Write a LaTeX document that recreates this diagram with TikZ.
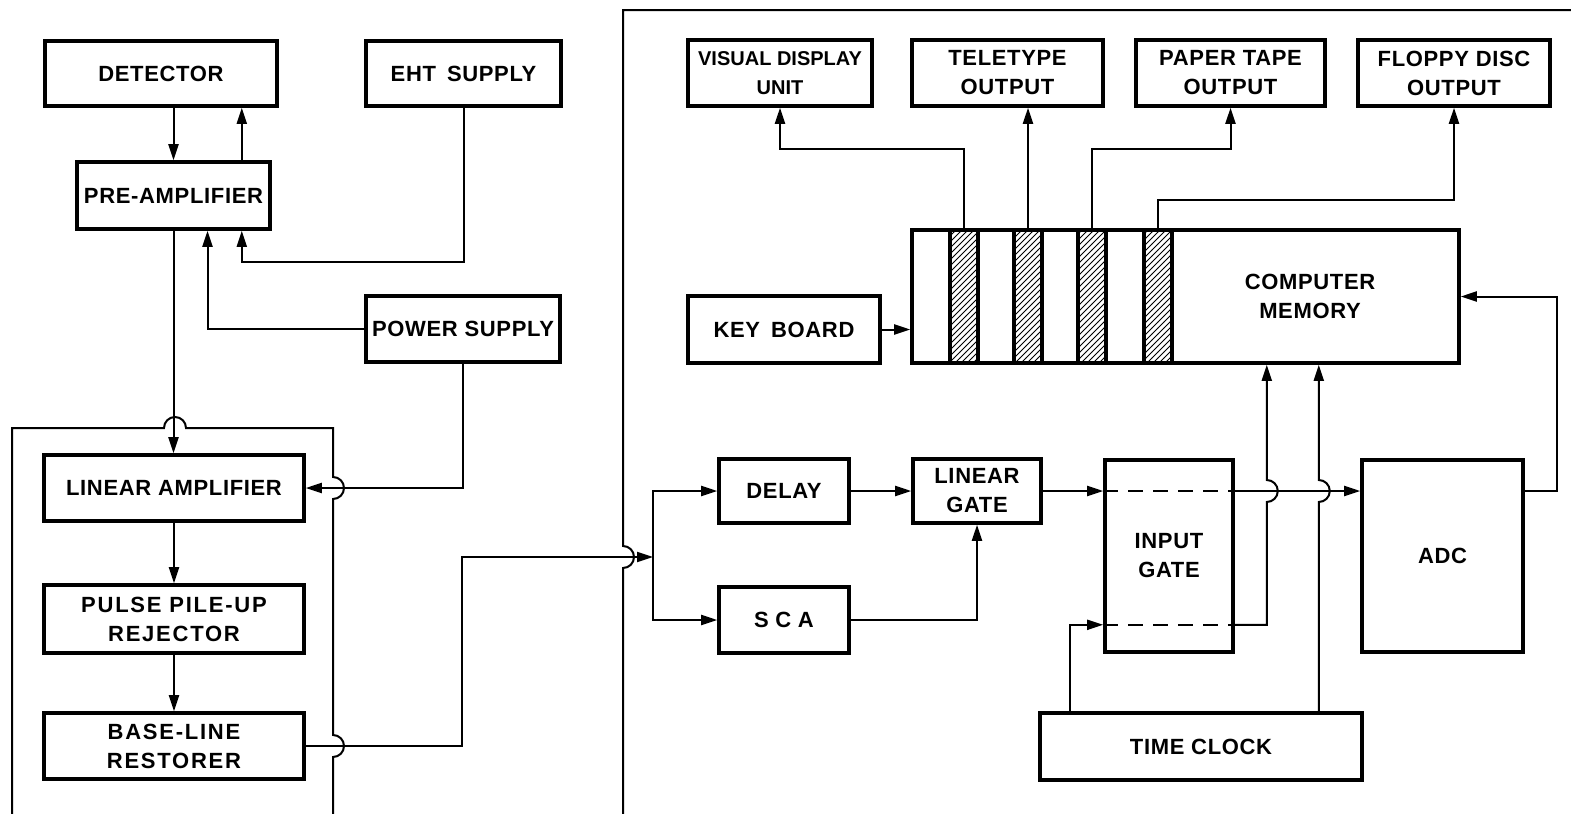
\documentclass[tikz,border=0pt]{standalone}
\usepackage{fontspec}
\setmainfont{Liberation Sans}[LetterSpace=3]
\usepackage{tikz}
\usetikzlibrary{arrows.meta,calc,patterns}
\newcommand{\boxfont}{\fontsize{11}{14.5}\selectfont\bfseries}

\begin{document}
\begin{tikzpicture}[x=0.5pt,y=-0.5pt,
    blk/.style={draw,line width=1.8pt,inner sep=0pt,align=center,
                font=\boxfont},
    strip/.style={draw,line width=1.8pt,pattern=north east lines,
                  minimum width=14pt,minimum height=66.5pt},
    conn/.style={line width=1pt},
    arr/.style={conn,-{Triangle[length=8pt,width=5pt]}},
    gated/.style={line width=1pt,dash pattern=on 7.5pt off 5pt},
    frame/.style={line width=1pt}
  ]
  \def\jr{5.5pt}
  \fill[white] (0,0) rectangle (1571,814);
  \useasboundingbox (0,0) rectangle (1571,814);
  %% Detector side
  \node[blk,minimum width=116pt,minimum height=32.5pt] (det) at (161,73.5) {DETECTOR};
  \node[blk,minimum width=97.5pt,minimum height=32.5pt] (eht) at (463.5,73.5) {EHT\enspace SUPPLY};
  \node[blk,minimum width=96.5pt,minimum height=33.5pt] (pre) at (173.5,195.5) {PRE-AMPLIFIER};
  \node[blk,minimum width=97pt,minimum height=33pt] (pwr) at (463,329) {POWER SUPPLY};
  %% Shaping chain (left frame)
  \node[blk,minimum width=130pt,minimum height=33pt] (lin) at (174,488) {LINEAR AMPLIFIER};
  \node[blk,minimum width=130pt,minimum height=34pt,
        font=\boxfont\addfontfeature{LetterSpace=8}] (pur) at (174,619) {PULSE PILE-UP\\REJECTOR};
  \node[blk,minimum width=130pt,minimum height=33pt,
        font=\boxfont\addfontfeature{LetterSpace=8}] (blr) at (174,746) {BASE-LINE\\RESTORER};
  %% Outputs
  \node[blk,minimum width=92pt,minimum height=33pt,
        font=\fontsize{10}{14.5}\selectfont\bfseries\addfontfeature{LetterSpace=0}] (vdu) at (780,73) {VISUAL DISPLAY\\UNIT};
  \node[blk,minimum width=95.5pt,minimum height=33pt] (tty) at (1007.5,73) {TELETYPE\\OUTPUT};
  \node[blk,minimum width=94.5pt,minimum height=33pt] (ppt) at (1230.5,73) {PAPER TAPE\\OUTPUT};
  \node[blk,minimum width=96pt,minimum height=33pt] (fdo) at (1454,73) {FLOPPY DISC\\OUTPUT};
  %% Memory with its four ports
  \node[blk,minimum width=96pt,minimum height=33.5pt] (kbd) at (784,329.5) {KEY\enspace BOARD};
  \node[blk,minimum width=273.5pt,minimum height=66.5pt] (mem) at (1185.5,296.5) {};
  \node[font=\boxfont,align=center] (memtxt) at (1310,296) {COMPUTER\\MEMORY};
  \node[strip] (s1) at (964,296.5) {};
  \node[strip] (s2) at (1028,296.5) {};
  \node[strip] (s3) at (1092,296.5) {};
  \node[strip] (s4) at (1158,296.5) {};
  %% Analyser chain
  \node[blk,minimum width=65pt,minimum height=32pt] (dly) at (784,491) {DELAY};
  \node[blk,minimum width=64pt,minimum height=32pt] (lg) at (977,491) {LINEAR\\GATE};
  \node[blk,minimum width=65pt,minimum height=33pt,
        font=\boxfont\addfontfeature{LetterSpace=30}] (sca) at (784,620) {SCA};
  \node[blk,minimum width=64pt,minimum height=96pt] (ig) at (1169,556) {INPUT\\GATE};
  \node[blk,minimum width=80.5pt,minimum height=96pt] (adc) at (1442.5,556) {ADC};
  \node[blk,minimum width=161pt,minimum height=33.5pt] (clk) at (1201,746.5) {TIME CLOCK};
  %% Frames (open at the bottom)
  \draw[frame] (12,814) -- (12,428) -- (164,428) arc[start angle=180,end angle=0,radius=\jr]
    -- (333,428) -- (333,477) arc[start angle=90,end angle=-90,radius=\jr]
    -- (333,735) arc[start angle=90,end angle=-90,radius=\jr] -- (333,814);
  \draw[frame] (1571,10) -- (623,10) -- (623,546) arc[start angle=90,end angle=-90,radius=\jr] -- (623,814);
  %% Detector, supplies, pre-amplifier
  \draw[arr] (det.south -| pre.north) -- (pre.north);
  \draw[arr] ($(pre.north east)+(-30,0)$) -- ($(pre.north east |- det.south)+(-30,0)$);
  \draw[arr] (eht.south) |- ($(pre.south east)+(-30,31)$) -- ($(pre.south east)+(-30,0)$);
  \draw[arr] (pwr.west) -| ($(pre.south)+(34,0)$);
  \draw[arr] (pre.south) -- (pre.south |- lin.north);
  \draw[arr] (pwr.south) |- (lin.east);
  \draw[arr] (lin) -- (pur);
  \draw[arr] (pur) -- (blr);
  %% Into the analyser
  \coordinate (jn) at (653,557);
  \draw[arr] (blr.east) -| (462,557) -- (jn);
  \draw[arr] (jn) |- (dly.west);
  \draw[arr] (jn) |- (sca.west);
  \draw[arr] (dly) -- (lg);
  \draw[arr] (sca.east) -| (lg.south);
  %% Signal through the input gate into the ADC
  \coordinate (gin) at (ig.west |- lg.east);
  \coordinate (gout) at (ig.east |- lg.east);
  \draw[arr] (lg.east) -- (gin);
  \draw[gated] (gin) -- (gout);
  \draw[arr] (gout) -- (gout -| adc.west);
  \draw[arr] (adc.east |- gout) -- ++(32,0) |- (mem.east);
  %% Clock and gate lines to the memory
  \coordinate (cin) at ($(ig.south west)+(0,-29)$);
  \coordinate (cout) at (cin -| ig.east);
  \draw[arr] ($(clk.north west)+(32,0)$) |- (cin);
  \draw[gated] (cin) -- (cout);
  \draw[arr] (cout) -| ($(gout)+(32,11)$) arc[start angle=-90,end angle=90,radius=\jr]
    coordinate (j1) -- (j1 |- mem.south);
  \draw[arr] ($(clk.north east)+(-45,0)$) -- ($(gout -| clk.north east)+(-45,11)$)
    arc[start angle=-90,end angle=90,radius=\jr] coordinate (j2) -- (j2 |- mem.south);
  %% Keyboard in, outputs out
  \draw[arr] (kbd.east) -- (kbd.east -| mem.west);
  \draw[arr] (s1.north) -- ++(0,-79) -| (vdu.south);
  \draw[arr] (s2.north) -- (s2.north |- tty.south);
  \draw[arr] (s3.north) -- ++(0,-79) -| (ppt.south);
  \draw[arr] (s4.north) -- ++(0,-28) -| (fdo.south);
\end{tikzpicture}
\end{document}
